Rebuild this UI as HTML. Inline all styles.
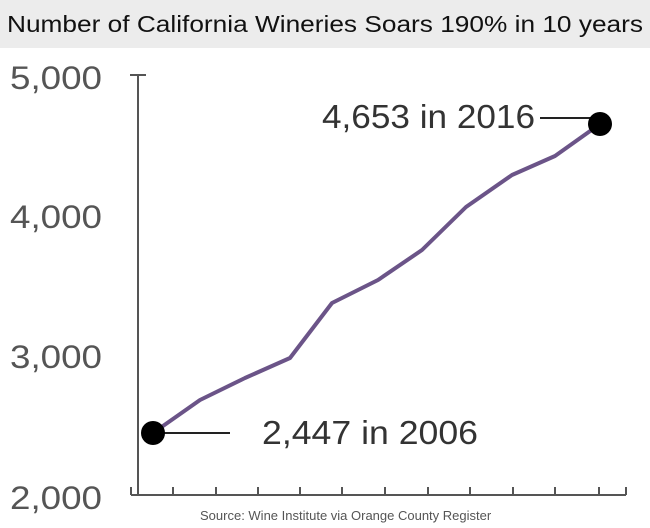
<!DOCTYPE html>
<html><head><style>
body{margin:0;width:650px;height:528px;background:#fff;overflow:hidden;font-family:"Liberation Sans",sans-serif}
.t{position:absolute;left:0;top:0;width:650px;height:48px;background:#ececec}
</style></head><body>
<div class="t"></div>
<svg width="650" height="528" style="position:absolute;left:0;top:0">
<text x="7" y="32" font-size="23" fill="#111" font-family="Liberation Sans, sans-serif" textLength="636" lengthAdjust="spacingAndGlyphs">Number of California Wineries Soars 190% in 10 years</text>
<g font-size="32" fill="#555">
<text x="10" y="89" textLength="92" lengthAdjust="spacingAndGlyphs">5,000</text>
<text x="10" y="228" textLength="92" lengthAdjust="spacingAndGlyphs">4,000</text>
<text x="10" y="368" textLength="92" lengthAdjust="spacingAndGlyphs">3,000</text>
<text x="10" y="509" textLength="92" lengthAdjust="spacingAndGlyphs">2,000</text>
</g>
<g stroke="#555" stroke-width="2" fill="none">
<line x1="138" y1="75" x2="138" y2="495"/>
<line x1="130" y1="75" x2="146" y2="75"/>
<line x1="131" y1="495" x2="626" y2="495"/>
<path d="M131 487V495M173 487V495M216 487V495M258 487V495M300 487V495M342 487V495M385 487V495M428 487V495M470 487V495M513 487V495M555 487V495M599 487V495M626 487V495"/>
<line x1="153" y1="433" x2="230" y2="433" stroke="#222"/>
<line x1="540" y1="118" x2="600" y2="118" stroke="#222"/>
</g>
<polyline points="153,433 200,400 245,378 290,358 332,303 378,280 422,250 466,207 512,175 555,156 600,124" fill="none" stroke="#6b5488" stroke-width="4" stroke-linejoin="round"/>
<circle cx="153" cy="433" r="12" fill="#000"/>
<circle cx="600" cy="124" r="12" fill="#000"/>
<g font-size="33" fill="#333">
<text x="262" y="444" textLength="216" lengthAdjust="spacingAndGlyphs">2,447 in 2006</text>
<text x="322" y="128" textLength="213" lengthAdjust="spacingAndGlyphs">4,653 in 2016</text>
</g>
<text x="200" y="520" font-size="13" fill="#555">Source: Wine Institute via Orange County Register</text>
</svg>
</body></html>
